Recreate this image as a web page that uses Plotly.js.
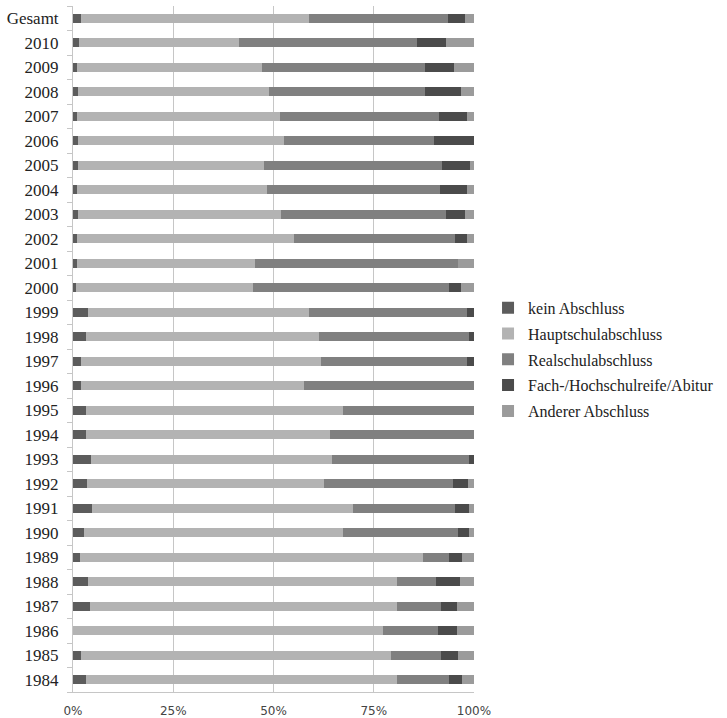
<!DOCTYPE html>
<html>
<head>
<meta charset="utf-8">
<script src="https://cdn.plot.ly/plotly-3.0.1.min.js"></script>
<style>html,body{margin:0;padding:0;background:#fff;}#chart{width:727px;height:718px;}</style>
</head>
<body>
<div id="chart"></div>
<script>
var categories = ["1984","1985","1986","1987","1988","1989","1990","1991","1992","1993","1994","1995","1996","1997","1998","1999","2000","2001","2002","2003","2004","2005","2006","2007","2008","2009","2010","Gesamt"];
var seriesNames = ["kein Abschluss","Hauptschulabschluss","Realschulabschluss","Fach-/Hochschulreife/Abitur","Anderer Abschluss"];
var keinAbschluss =   [3.25, 2.0, 0.0, 4.2, 3.7, 1.7, 2.75, 4.7, 3.6, 4.5, 3.3, 3.3, 2.1, 1.9, 3.3, 3.75, 0.8, 1.0, 1.0, 1.25, 1.0, 1.2, 1.3, 1.1, 1.25, 1.1, 1.4, 2.1];
var hauptschule =     [77.45, 77.2, 77.2, 76.6, 77.1, 85.5, 64.55, 65.2, 59.0, 60.2, 60.7, 64.0, 55.4, 59.9, 58.0, 55.15, 44.2, 44.5, 54.0, 50.5, 47.4, 46.55, 51.2, 50.4, 47.75, 46.0, 40.1, 56.7];
var realschule =      [13.1, 12.6, 13.8, 10.9, 9.7, 6.6, 28.8, 25.4, 32.2, 34.0, 36.0, 32.7, 42.5, 36.5, 37.45, 39.4, 48.8, 50.6, 40.2, 41.35, 43.1, 44.15, 37.5, 39.7, 38.7, 40.6, 44.25, 34.75];
var abitur =          [3.1, 4.2, 4.7, 4.1, 5.9, 3.1, 2.7, 3.4, 3.7, 1.3, 0.0, 0.0, 0.0, 1.7, 1.25, 1.7, 2.9, 0.0, 3.0, 4.7, 6.7, 7.1, 10.0, 7.1, 9.1, 7.3, 7.35, 4.25];
var andererAbschluss =[3.1, 4.0, 4.3, 4.2, 3.6, 3.1, 1.2, 1.3, 1.5, 0.0, 0.0, 0.0, 0.0, 0.0, 0.0, 0.0, 3.3, 3.9, 1.8, 2.2, 1.8, 1.0, 0.0, 1.7, 3.2, 5.0, 6.9, 2.25];
var xTickVals = [0, 25, 50, 75, 100];
var xTickText = ["0%", "25%", "50%", "75%", "100%"];

var seriesValues = [keinAbschluss, hauptschule, realschule, abitur, andererAbschluss];
var colors = ["#5c5c5c", "#b3b3b3", "#808080", "#4b4b4b", "#9b9b9b"];

var traces = seriesValues.map(function(vals, i){
  return {
    type: "bar",
    orientation: "h",
    name: seriesNames[i],
    y: categories,
    x: vals,
    legendgroup: "g" + i,
    marker: {color: colors[i], line: {width: 0}},
    hoverinfo: "name+x"
  };
});

var layout = {
  width: 727,
  height: 718,
  margin: {l: 73, r: 253, t: 6, b: 26},
  paper_bgcolor: "#ffffff",
  plot_bgcolor: "#ffffff",
  barmode: "stack",
  bargap: 0.62,
  showlegend: true,
  legend: {
    x: 1.035, xanchor: "left",
    y: 0.485, yanchor: "middle",
    traceorder: "grouped",
    tracegroupgap: 2,
    font: {family: "Liberation Serif, Times New Roman, serif", size: 16, color: "#222"},
    itemwidth: 30,
    bgcolor: "rgba(0,0,0,0)"
  },
  xaxis: {
    range: [0, 100],
    tickvals: xTickVals,
    ticktext: xTickText,
    showgrid: true,
    gridcolor: "#c6c6c6",
    gridwidth: 1,
    zeroline: false,
    showline: true,
    linecolor: "#c6c6c6",
    linewidth: 1,
    ticks: "",
    ticklabelstandoff: 8,
    tickfont: {family: "DejaVu Sans, Verdana, sans-serif", size: 12, color: "#444"},
    fixedrange: true
  },
  yaxis: {
    type: "category",
    categoryorder: "array",
    categoryarray: categories,
    showline: true,
    linecolor: "#c6c6c6",
    linewidth: 1,
    ticks: "outside",
    tickson: "boundaries",
    ticklen: 5,
    tickcolor: "#c6c6c6",
    showgrid: false,
    tickfont: {family: "Liberation Serif, Times New Roman, serif", size: 17, color: "#222"},
    ticklabelstandoff: 10,
    fixedrange: true
  }
};

Plotly.newPlot("chart", traces, layout, {displayModeBar: false, staticPlot: true});
</script>
</body>
</html>
